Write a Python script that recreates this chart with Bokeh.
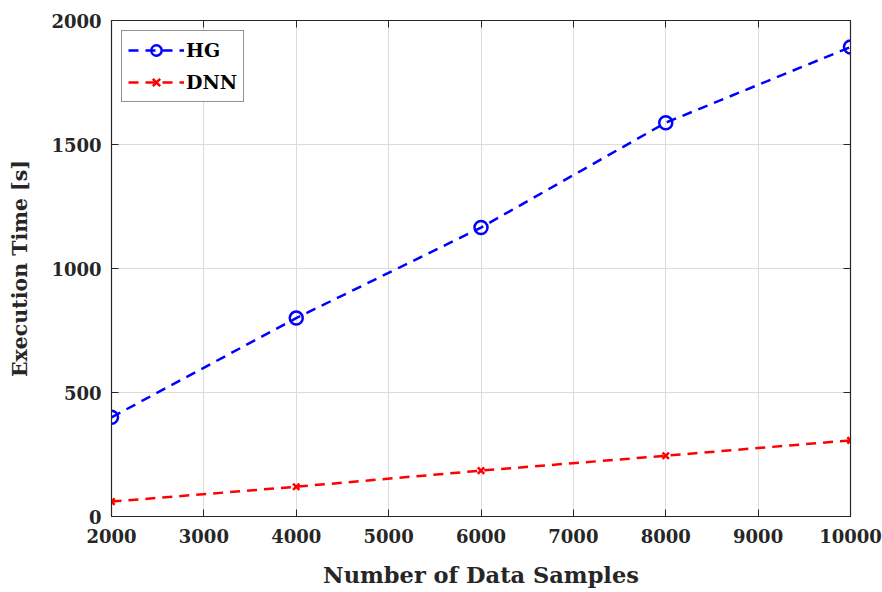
from bokeh.plotting import figure
from bokeh.models import LinearAxis, Legend, LegendItem, FixedTicker, Range1d, CustomJSTickFormatter
from bokeh.embed import file_html
from bokeh.resources import INLINE

samples = [2000, 4000, 6000, 8000, 10000]
hg_time = [400, 800, 1165, 1588, 1893]
dnn_time = [60, 120, 185, 245, 307]
x_ticks = [2000, 3000, 4000, 5000, 6000, 7000, 8000, 9000, 10000]
y_ticks = [0, 500, 1000, 1500, 2000]

FONT = "DejaVu Serif"

p = figure(width=882, height=592, output_backend="svg", toolbar_location=None,
           x_range=Range1d(2000, 10000), y_range=Range1d(0, 2000),
           min_border_left=111, min_border_right=32, min_border_top=20, min_border_bottom=76)

p.outline_line_color = "#262626"
p.outline_line_width = 1.2

for ax in [p.xaxis[0], p.yaxis[0]]:
    ax.major_label_text_font = FONT
    ax.major_label_text_font_style = "bold"
    ax.major_label_text_font_size = "18px"
    ax.major_label_text_color = "#262626"
    ax.axis_label_text_font = FONT
    ax.axis_label_text_font_style = "bold"
    ax.axis_label_text_color = "#262626"
    ax.axis_line_color = "#262626"
    ax.major_tick_in = 7
    ax.major_tick_out = 0
    ax.minor_tick_line_color = None
    ax.major_tick_line_color = "#262626"

p.xaxis[0].ticker = FixedTicker(ticks=x_ticks)
p.yaxis[0].ticker = FixedTicker(ticks=y_ticks)
p.xaxis[0].axis_label = "Number of Data Samples"
p.yaxis[0].axis_label = "Execution Time [s]"
p.xaxis[0].axis_label_text_font_size = "22.5px"
p.yaxis[0].axis_label_text_font_size = "20.5px"
p.xaxis[0].major_label_standoff = 12
p.yaxis[0].major_label_standoff = 10
p.xaxis[0].axis_label_standoff = 16
p.yaxis[0].axis_label_standoff = 16

blank = CustomJSTickFormatter(code="return '';")
top = LinearAxis(ticker=FixedTicker(ticks=x_ticks), formatter=blank,
                 major_tick_in=7, major_tick_out=0, minor_tick_line_color=None,
                 major_label_standoff=0,
                 axis_line_color="#262626", major_tick_line_color="#262626")
right = LinearAxis(ticker=FixedTicker(ticks=y_ticks), formatter=blank,
                   major_tick_in=7, major_tick_out=0, minor_tick_line_color=None,
                   major_label_standoff=0,
                   axis_line_color="#262626", major_tick_line_color="#262626")
p.add_layout(top, "above")
p.add_layout(right, "right")

p.xgrid.ticker = FixedTicker(ticks=x_ticks)
p.ygrid.ticker = FixedTicker(ticks=y_ticks)
p.grid.grid_line_color = "#dcdcdc"
p.grid.grid_line_width = 1

l1 = p.line(samples, hg_time, line_color="blue", line_width=2.5, line_dash="10 7")
s1 = p.scatter(samples, hg_time, marker="circle", size=13, fill_color=None,
               line_color="blue", line_width=2.5)
l2 = p.line(samples, dnn_time, line_color="red", line_width=2.5, line_dash="10 7")
s2 = p.scatter(samples, dnn_time, marker="x", size=9, line_color="red", line_width=2.5)

legend = Legend(items=[LegendItem(label="HG", renderers=[l1, s1]),
                       LegendItem(label="DNN", renderers=[l2, s2])],
                location="top_left")
legend.label_text_font = FONT
legend.label_text_font_style = "bold"
legend.label_text_font_size = "19px"
legend.label_text_color = "#000000"
legend.border_line_color = "#262626"
legend.border_line_width = 1
legend.glyph_width = 56
legend.glyph_height = 26
legend.spacing = 6
legend.padding = 6
legend.margin = 10
legend.label_standoff = 2
p.add_layout(legend)

open("out.html", "w").write(file_html(p, INLINE))
